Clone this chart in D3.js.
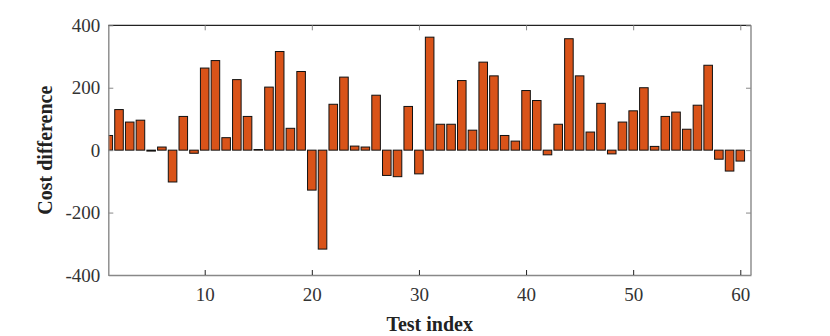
<!DOCTYPE html>
<html>
<head>
<meta charset="utf-8">
<script src="https://cdn.jsdelivr.net/npm/d3@7"></script>
<style>
  html, body { margin: 0; padding: 0; background: #fff; }
  svg { display: block; }
</style>
</head>
<body>
<script>
const testIndex = d3.range(1, 61);
const costDiff = [
  47, 130, 90, 96, -3, 10, -102, 108, -10, 263,
  287, 40, 226, 108, 2, 202, 316, 70, 252, -128,
  -317, 147, 234, 13, 10, 176, -81, -85, 140, -76,
  362, 83, 83, 223, 64, 282, 238, 47, 29, 191,
  159, -15, 83, 357, 238, 58, 150, -12, 90, 126,
  200, 12, 108, 122, 67, 144, 272, -29, -67, -35
];
const xTicks = [10, 20, 30, 40, 50, 60];
const yTicks = [-400, -200, 0, 200, 400];

const W = 830, H = 336;
const m = { left: 108.3, right: 79, top: 25.3, bottom: 61 };
const svg = d3.select("body").append("svg").attr("width", W).attr("height", H);

const x = d3.scaleLinear().domain([1, 61]).range([m.left, W - m.right]);
const y = d3.scaleLinear().domain([-400, 400]).range([H - m.bottom, m.top]);
const bw = x(1.8) - x(1);

const defs = svg.append("defs");
defs.append("clipPath").attr("id", "clip").append("rect")
  .attr("x", x(1)).attr("y", y(400)).attr("width", x(61) - x(1)).attr("height", y(-400) - y(400));

svg.append("g").attr("clip-path", "url(#clip)")
  .selectAll("rect").data(testIndex).join("rect")
  .attr("x", i => x(i) - bw / 2)
  .attr("width", bw)
  .attr("y", (i, k) => y(Math.max(0, costDiff[k])))
  .attr("height", (i, k) => Math.abs(y(costDiff[k]) - y(0)))
  .attr("fill", "#D95319")
  .attr("stroke", "#111")
  .attr("stroke-width", 1);

// Box
const fontFam = "'Liberation Serif', 'Times New Roman', serif";
const fmt = d => String(d);
svg.append("line").attr("x1", x(1)).attr("x2", x(61)).attr("y1", y(400)).attr("y2", y(400))
  .attr("stroke", "#222").attr("stroke-width", 1.2);
svg.append("line").attr("x1", x(61)).attr("x2", x(61)).attr("y1", y(400)).attr("y2", y(-400))
  .attr("stroke", "#888").attr("stroke-width", 1.4);

// Axes
const xAxis = d3.axisBottom(x).tickValues(xTicks).tickSizeInner(-5).tickSizeOuter(0).tickPadding(13).tickFormat(fmt);
const gx = svg.append("g").attr("transform", `translate(0,${y(-400)})`).call(xAxis);
gx.select(".domain").attr("stroke", "#888").attr("stroke-width", 1.4);
gx.selectAll(".tick line").attr("stroke", "#222");
gx.selectAll("text").attr("font-family", fontFam).attr("font-size", 19).attr("fill", "#333");

const xTop = d3.axisTop(x).tickValues(xTicks).tickSizeInner(-5).tickSizeOuter(0).tickFormat("");
const gxt = svg.append("g").attr("transform", `translate(0,${y(400)})`).call(xTop);
gxt.select(".domain").remove();
gxt.selectAll(".tick line").attr("stroke", "#888");

const yAxis = d3.axisLeft(y).tickValues(yTicks).tickSizeInner(-5).tickSizeOuter(0).tickPadding(8).tickFormat(fmt);
const gy = svg.append("g").attr("transform", `translate(${x(1)},0)`).call(yAxis);
gy.select(".domain").attr("stroke", "#888").attr("stroke-width", 1.4);
gy.selectAll(".tick line").attr("stroke", "#888");
gy.selectAll("text").attr("font-family", fontFam).attr("font-size", 19).attr("fill", "#333");

const yRight = d3.axisRight(y).tickValues(yTicks).tickSizeInner(-5).tickSizeOuter(0).tickFormat("");
const gyr = svg.append("g").attr("transform", `translate(${x(61)},0)`).call(yRight);
gyr.select(".domain").remove();
gyr.selectAll(".tick line").attr("stroke", "#888");

// Labels
svg.append("text").attr("x", (x(1) + x(61)) / 2).attr("y", 331)
  .attr("text-anchor", "middle").attr("font-family", fontFam).attr("font-weight", "bold")
  .attr("font-size", 20).attr("fill", "#222").text("Test index");
svg.append("text").attr("transform", `translate(52,${(y(400) + y(-400)) / 2}) rotate(-90)`)
  .attr("text-anchor", "middle").attr("font-family", fontFam).attr("font-weight", "bold")
  .attr("font-size", 20).attr("fill", "#222").text("Cost difference");
</script>
</body>
</html>
